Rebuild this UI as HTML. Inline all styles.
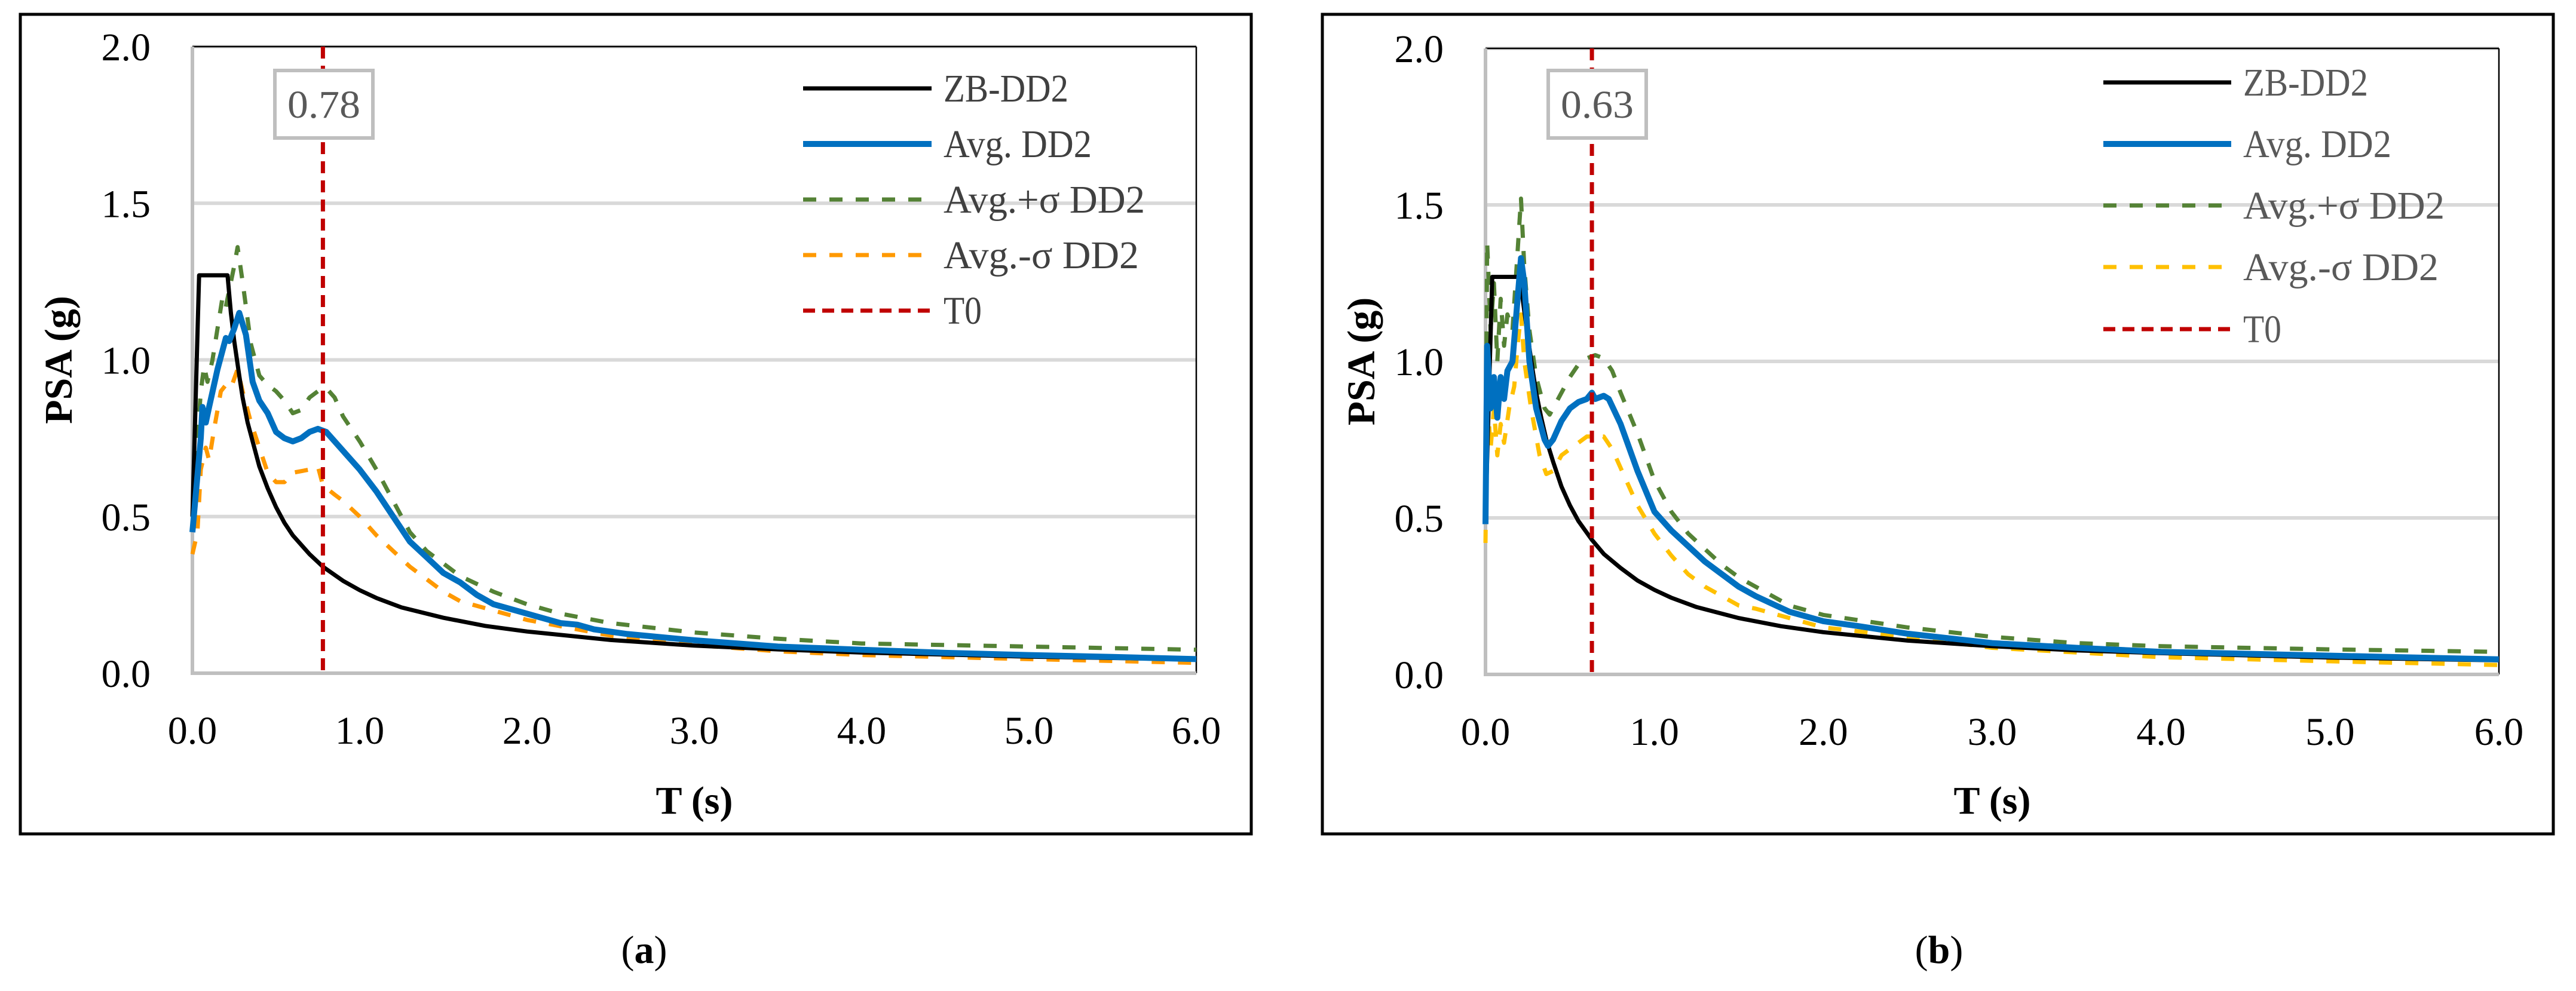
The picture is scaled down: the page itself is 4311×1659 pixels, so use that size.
<!DOCTYPE html>
<html><head><meta charset="utf-8"><style>
html,body{margin:0;padding:0;background:#fff;}
svg{display:block;font-family:"Liberation Serif",serif;}
</style></head><body>
<svg id="fig" width="4311" height="1659" viewBox="0 0 4311 1659" xmlns="http://www.w3.org/2000/svg">
<rect x="0" y="0" width="4311" height="1659" fill="#fff"/>
</svg>
<script>
// ---- data ----
const yTicks=[0,0.5,1.0,1.5,2.0];
const xTicks=[0,1,2,3,4,5,6];
const legendLabels=["ZB-DD2","Avg. DD2","Avg.+σ DD2","Avg.-σ DD2","T0"];
const legendWidths=[209,248,337,327,64];
const t0A=0.78;
const t0B=0.63;
const zbA=[[0,0.5],[0.04,1.27],[0.21,1.27],[0.23,1.15],[0.25,1.06],[0.28,0.95],[0.3,0.88],[0.33,0.8],[0.36,0.74],[0.4,0.66],[0.45,0.59],[0.5,0.53],[0.55,0.48],[0.6,0.44],[0.7,0.38],[0.78,0.34],[0.9,0.295],[1,0.265],[1.1,0.24],[1.25,0.21],[1.5,0.177],[1.75,0.151],[2,0.133],[2.5,0.106],[3,0.088],[3.5,0.076],[4,0.066],[5,0.053],[6,0.044]];
const avgA=[[0,0.45],[0.05,0.75],[0.06,0.85],[0.08,0.8],[0.1,0.85],[0.15,0.97],[0.2,1.07],[0.22,1.06],[0.25,1.1],[0.28,1.15],[0.32,1.08],[0.36,0.93],[0.4,0.87],[0.45,0.83],[0.5,0.77],[0.55,0.75],[0.6,0.74],[0.65,0.75],[0.7,0.77],[0.75,0.78],[0.8,0.77],[0.9,0.71],[1.0,0.65],[1.1,0.58],[1.2,0.5],[1.3,0.42],[1.4,0.37],[1.5,0.32],[1.6,0.29],[1.7,0.25],[1.8,0.22],[2.0,0.19],[2.2,0.16],[2.3,0.155],[2.4,0.14],[2.6,0.125],[3.0,0.105],[3.5,0.085],[4.0,0.075],[4.5,0.065],[5,0.058],[5.5,0.052],[6,0.045]];
const plusA=[[0,0.5],[0.05,0.9],[0.07,0.98],[0.09,0.93],[0.12,1.0],[0.15,1.1],[0.18,1.2],[0.2,1.17],[0.25,1.3],[0.27,1.36],[0.3,1.25],[0.35,1.05],[0.4,0.95],[0.45,0.92],[0.5,0.9],[0.55,0.87],[0.6,0.83],[0.65,0.84],[0.7,0.88],[0.75,0.9],[0.8,0.91],[0.85,0.88],[0.9,0.82],[1.0,0.74],[1.1,0.65],[1.2,0.55],[1.3,0.45],[1.4,0.39],[1.5,0.35],[1.6,0.31],[1.8,0.26],[2.0,0.22],[2.2,0.19],[2.5,0.16],[3.0,0.13],[3.5,0.11],[4.0,0.095],[5,0.085],[6,0.075]];
const minusA=[[0,0.38],[0.03,0.45],[0.05,0.65],[0.08,0.72],[0.1,0.68],[0.13,0.78],[0.17,0.9],[0.2,0.92],[0.23,0.91],[0.27,0.97],[0.3,0.9],[0.35,0.8],[0.4,0.72],[0.45,0.64],[0.5,0.61],[0.55,0.61],[0.6,0.64],[0.7,0.65],[0.75,0.66],[0.78,0.6],[0.85,0.57],[0.9,0.55],[1.0,0.5],[1.1,0.44],[1.2,0.39],[1.3,0.34],[1.4,0.3],[1.5,0.26],[1.6,0.23],[1.8,0.2],[2.0,0.17],[2.2,0.15],[2.5,0.12],[3.0,0.09],[3.5,0.07],[4.0,0.058],[5,0.045],[6,0.033]];
const zbB=[[0,0.5],[0.04,1.27],[0.2,1.27],[0.22,1.2],[0.25,1.08],[0.28,0.97],[0.3,0.9],[0.33,0.82],[0.36,0.75],[0.4,0.68],[0.45,0.6],[0.5,0.54],[0.55,0.49],[0.63,0.43],[0.7,0.385],[0.8,0.34],[0.9,0.3],[1,0.27],[1.1,0.245],[1.25,0.215],[1.5,0.18],[1.75,0.154],[2,0.135],[2.5,0.108],[3,0.09],[3.5,0.077],[4,0.068],[5,0.054],[6,0.045]];
const avgB=[[0,0.48],[0.01,1.05],[0.03,0.85],[0.05,0.95],[0.07,0.82],[0.09,0.95],[0.11,0.88],[0.13,0.97],[0.16,1.0],[0.19,1.2],[0.21,1.33],[0.23,1.25],[0.26,1.0],[0.3,0.85],[0.35,0.75],[0.37,0.73],[0.4,0.75],[0.45,0.81],[0.5,0.85],[0.55,0.87],[0.6,0.88],[0.63,0.9],[0.65,0.88],[0.7,0.89],[0.73,0.88],[0.8,0.8],[0.9,0.65],[1.0,0.52],[1.1,0.46],[1.2,0.41],[1.3,0.36],[1.4,0.32],[1.5,0.28],[1.6,0.25],[1.8,0.2],[2.0,0.17],[2.2,0.155],[2.5,0.13],[3.0,0.1],[3.5,0.085],[4.0,0.072],[5.0,0.06],[6.0,0.048]];
const plusB=[[0,0.55],[0.01,1.38],[0.03,1.1],[0.05,1.25],[0.07,1.0],[0.09,1.2],[0.11,1.05],[0.13,1.15],[0.16,1.1],[0.19,1.35],[0.21,1.52],[0.23,1.3],[0.26,1.1],[0.3,0.95],[0.35,0.85],[0.38,0.83],[0.42,0.87],[0.5,0.95],[0.55,0.99],[0.6,1.01],[0.65,1.02],[0.7,1.01],[0.75,0.97],[0.8,0.9],[0.9,0.77],[1.0,0.62],[1.1,0.52],[1.2,0.45],[1.3,0.4],[1.4,0.35],[1.5,0.31],[1.6,0.28],[1.8,0.22],[2.0,0.19],[2.5,0.15],[3.0,0.12],[3.5,0.1],[4.0,0.09],[5,0.08],[6,0.072]];
const minusB=[[0,0.42],[0.01,0.9],[0.03,0.72],[0.05,0.85],[0.07,0.7],[0.09,0.8],[0.11,0.74],[0.14,0.85],[0.17,0.92],[0.19,1.05],[0.21,1.15],[0.23,1.0],[0.27,0.85],[0.32,0.7],[0.36,0.64],[0.4,0.65],[0.45,0.7],[0.5,0.72],[0.55,0.74],[0.6,0.76],[0.65,0.76],[0.7,0.76],[0.75,0.72],[0.8,0.66],[0.9,0.54],[1.0,0.45],[1.1,0.38],[1.2,0.32],[1.3,0.28],[1.4,0.25],[1.5,0.22],[1.6,0.21],[1.8,0.18],[2.0,0.15],[2.5,0.12],[3.0,0.085],[3.5,0.07],[4.0,0.055],[5,0.042],[6,0.03]];

const NS="http://www.w3.org/2000/svg";
const svg=document.getElementById('fig');
function mk(tag,attrs,parent,text){const e=document.createElementNS(NS,tag);for(const k in attrs)e.setAttribute(k,attrs[k]);if(text!==undefined)e.textContent=text;(parent||svg).appendChild(e);return e;}

function panel(cfg){
  const g=mk('g',{});
  
  
  const L=cfg.L,R=cfg.R,T=cfg.T,B=cfg.B;
  const xs=v=>L+(v-0)/(6-0)*(R-L);
  const ys=v=>B-(v-0)/(2-0)*(B-T);
  const frame=mk('rect',{x:cfg.bx,y:24,width:cfg.bw,height:1372,fill:'none',stroke:'#000','stroke-width':5},g);
  
  
  yTicks.forEach(v=>{
    if(v===0||v===2)return;
    const gl=mk('line',{x1:L,x2:R,y1:ys(v),y2:ys(v),stroke:'#d9d9d9','stroke-width':6},g);
    
    
  });
  mk('line',{x1:L,x2:R,y1:T,y2:T,stroke:'#d9d9d9','stroke-width':6},g);
  mk('line',{x1:L,x2:R,y1:T,y2:T,stroke:'#000','stroke-width':2.5},g);
  mk('line',{x1:R,x2:R,y1:T,y2:B,stroke:'#000','stroke-width':2.5},g);
  const ya=mk('line',{x1:L,x2:L,y1:T,y2:B+3,stroke:'#bfbfbf','stroke-width':6},g);
  
  
  const xa=mk('line',{x1:L-3,x2:R,y1:B,y2:B,stroke:'#bfbfbf','stroke-width':6},g);
  
  
  yTicks.forEach(v=>{
    const t=mk('text',{x:L-70,y:ys(v)+23,'text-anchor':'end','font-size':66,fill:'#000'},g,v.toFixed(1));
    
    
  });
  xTicks.forEach(v=>{
    const t=mk('text',{x:xs(v),y:B+118,'text-anchor':'middle','font-size':66,fill:'#000'},g,v.toFixed(1));
    
    
  });
  const xt=mk('text',{x:(L+R)/2,y:1362,'text-anchor':'middle','font-size':66,'font-weight':'bold',fill:'#000'},g,'T (s)');
  
  
  const yt=mk('text',{x:0,y:0,'text-anchor':'middle','font-size':66,'font-weight':'bold',fill:'#000',transform:`translate(${cfg.ytx},${(T+B)/2}) rotate(-90)`},g,'PSA (g)');
  
  
  const series=[
    {d:cfg.minus,c:cfg.orange,w:7,dash:'22 22',n:'series-avg-minus-sigma'},
    {d:cfg.plus,c:'#548235',w:7,dash:'22 22',n:'series-avg-plus-sigma'},
    {d:cfg.zb,c:'#000',w:7,dash:null,n:'series-zb-dd2'},
    {d:cfg.avg,c:'#0070c0',w:10,dash:null,n:'series-avg-dd2'}
  ];
  series.forEach(s=>{
    const pts=s.d.map(p=>xs(p[0]).toFixed(1)+','+ys(p[1]).toFixed(1)).join(' ');
    const a={points:pts,fill:'none',stroke:s.c,'stroke-width':s.w,'stroke-linejoin':'round'};
    if(s.dash){a['stroke-dasharray']=s.dash;}
    const pl=mk('polyline',a,g);
    
    
  });
  const tl=mk('line',{x1:xs(cfg.t0),x2:xs(cfg.t0),y1:T,y2:B,stroke:'#c00000','stroke-width':7,'stroke-dasharray':'20 12'},g);
  
  
  const vb=mk('rect',{x:cfg.vx,y:118,width:164,height:113,fill:'#fff',stroke:'#bfbfbf','stroke-width':6},g);
  
  
  const vt=mk('text',{x:cfg.vx+82,y:197,'text-anchor':'middle','font-size':66,fill:'#595959',textLength:122,lengthAdjust:'spacingAndGlyphs'},g,cfg.t0.toFixed(2));
  
  
  const lc=['#000','#0070c0','#548235',cfg.orange,'#c00000'];
  const lw=[7,10,7,7,7];
  const ld=[null,null,'22 22','22 22','20 12'];
  legendLabels.forEach((lab,i)=>{
    const y=cfg.ly[i];
    const la={x1:cfg.lx1,x2:cfg.lx2,y1:y,y2:y,stroke:lc[i],'stroke-width':lw[i]};
    if(ld[i])la['stroke-dasharray']=ld[i];
    const ln=mk('line',la,g);
    
    
    const tx=mk('text',{x:cfg.lx2+20,y:y+22,'font-size':66,fill:cfg.ltc,textLength:legendWidths[i],lengthAdjust:'spacingAndGlyphs'},g,lab);
    
    
  });
  const cap=mk('text',{x:cfg.capx,y:1612,'text-anchor':'middle','font-size':66,fill:'#000'},g);
  
  
  mk('tspan',{},cap,'(');
  mk('tspan',{'font-weight':'bold'},cap,cfg.id);
  mk('tspan',{},cap,')');
}
panel({id:'a',L:322,R:2002,T:78,B:1127,bx:34,bw:2060,ytx:120,t0:t0A,vx:460,
  zb:zbA,avg:avgA,plus:plusA,minus:minusA,orange:'#ff9900',
  ly:[148,241,334,427,520],lx1:1344,lx2:1559,ltc:'#404040',capx:1078});
panel({id:'b',L:2486,R:4182,T:81,B:1129,bx:2213,bw:2060,ytx:2300,t0:t0B,vx:2591,
  zb:zbB,avg:avgB,plus:plusB,minus:minusB,orange:'#ffc000',
  ly:[138,241,344,447,551],lx1:3520,lx2:3734,ltc:'#595959',capx:3245});
</script>
</body></html>
